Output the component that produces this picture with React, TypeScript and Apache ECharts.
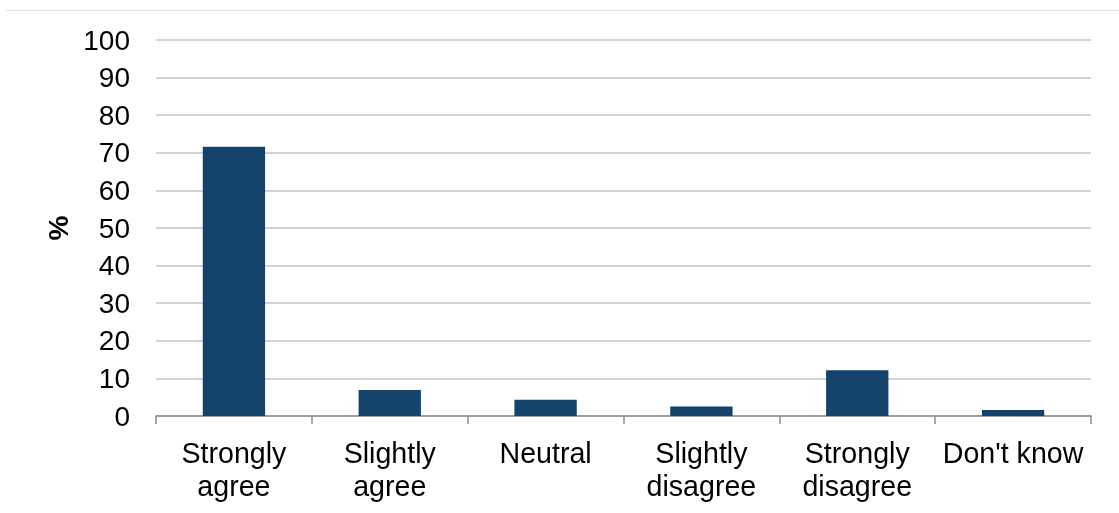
import React, { useEffect, useRef } from "react";
import * as echarts from "echarts";

const categories = ["Strongly\nagree", "Slightly\nagree", "Neutral", "Slightly\ndisagree", "Strongly\ndisagree", "Don't know"];
const values = [71.6, 6.9, 4.3, 2.5, 12.2, 1.6];
const yTicks = { min: 0, max: 100, interval: 10 };
const yAxisName = "%";

export default function App() {
  const ref = useRef<HTMLDivElement>(null);
  useEffect(() => {
    const chart = echarts.init(ref.current!, null, { renderer: "svg" });
    chart.setOption({
      animation: false,
      textStyle: { fontFamily: "Liberation Sans, Arial, sans-serif" },
      graphic: [
        { type: "line", shape: { x1: 6, y1: 10.5, x2: 1119, y2: 10.5 }, style: { stroke: "#e2e2e2", lineWidth: 1 } },
      ],
      grid: { left: 156, right: 28, top: 40, bottom: 97, containLabel: false },
      xAxis: {
        type: "category",
        data: categories,
        axisLine: { lineStyle: { color: "#8c8c8c", width: 1.5 } },
        axisTick: { show: true, length: 8, lineStyle: { color: "#8c8c8c", width: 1.5 } },
        axisLabel: { color: "#000", fontSize: 28.6, lineHeight: 33, margin: 20, interval: 0 },
      },
      yAxis: {
        type: "value",
        min: yTicks.min,
        max: yTicks.max,
        interval: yTicks.interval,
        name: yAxisName,
        nameLocation: "middle",
        nameGap: 84,
        nameRotate: 90,
        nameTextStyle: { color: "#000", fontSize: 28, fontWeight: "bold" },
        axisLine: { show: false },
        axisTick: { show: false },
        axisLabel: { color: "#000", fontSize: 28, margin: 26 },
        splitLine: { lineStyle: { color: "#c4c4c4", width: 1.5 } },
      },
      series: [
        {
          type: "bar",
          data: values,
          barWidth: "40%",
          itemStyle: { color: "#15436b" },
        },
      ],
    });
    return () => chart.dispose();
  }, []);
  return <div ref={ref} style={{ position: "fixed", left: 0, top: 0, width: 1119, height: 513 }} />;
}
